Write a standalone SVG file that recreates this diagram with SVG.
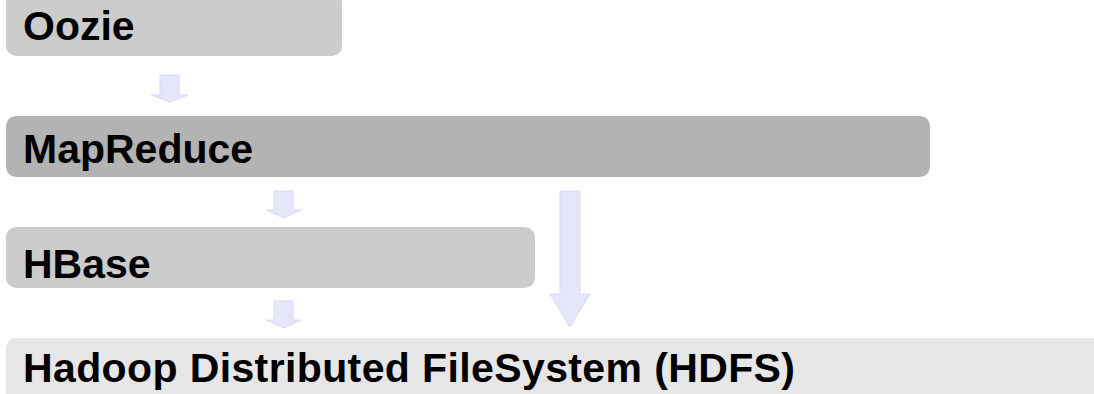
<svg xmlns="http://www.w3.org/2000/svg" width="1094" height="394" viewBox="0 0 1094 394">
<style>
.lbl{font-family:"Liberation Sans",Arial,sans-serif;font-weight:bold;font-size:41px;fill:#000}
.arr{fill:#e6e6fa;stroke:#d9d9f2;stroke-width:1}
</style>
<rect width="1094" height="394" fill="#ffffff"/>
<g id="oozie">
<rect x="6" y="-8" width="336" height="64" rx="10" fill="#cccccc"/>
<text class="lbl" x="23" y="40">Oozie</text>
</g>
<g id="mapreduce">
<rect x="6" y="116" width="924" height="61" rx="10" fill="#b3b3b3"/>
<text class="lbl" x="23" y="163">MapReduce</text>
</g>
<g id="hbase">
<rect x="6" y="227" width="529" height="61" rx="10" fill="#cccccc"/>
<text class="lbl" x="23" y="278">HBase</text>
</g>
<g id="hdfs">
<rect x="6" y="338" width="1110" height="80" rx="10" fill="#e6e6e6"/>
<text class="lbl" x="23" y="382" textLength="772" lengthAdjust="spacing">Hadoop Distributed FileSystem (HDFS)</text>
</g>
<g id="connectors">
<polygon class="arr" points="160,75 179,75 179,95 188,95 169.5,102 151,95 160,95"/>
<polygon class="arr" points="274,191 293,191 293,210 301,210 283.5,218 266,210 274,210"/>
<polygon class="arr" points="274,301 293,301 293,320 301,320 283.5,328 266,320 274,320"/>
<polygon class="arr" points="560,191 580,191 580,294 590,294 570,327 550,294 560,294"/>
</g>
</svg>
